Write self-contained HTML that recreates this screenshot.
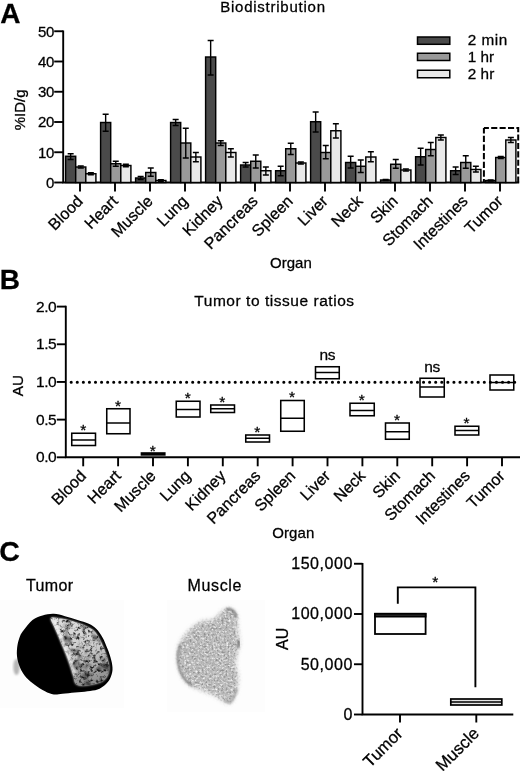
<!DOCTYPE html>
<html><head><meta charset="utf-8"><title>Figure</title>
<style>
html,body{margin:0;padding:0;background:#fff;}
body{width:520px;height:771px;overflow:hidden;font-family:"Liberation Sans",sans-serif;}
svg{display:block;}
text{font-family:"Liberation Sans",sans-serif;fill:#000;stroke:#000;stroke-width:0.28px;}
svg{opacity:0.9999;}
</style></head><body>
<svg width="520" height="771" viewBox="0 0 520 771">
<defs>
<filter id="blur1" x="-20%" y="-20%" width="140%" height="140%"><feGaussianBlur stdDeviation="1.1"/></filter>
<filter id="blur2" x="-20%" y="-20%" width="140%" height="140%"><feGaussianBlur stdDeviation="0.65"/></filter>
<filter id="blur3" x="-5%" y="-5%" width="110%" height="110%"><feGaussianBlur stdDeviation="0.6"/></filter>
<filter id="blurE" x="-30%" y="-30%" width="160%" height="160%"><feGaussianBlur stdDeviation="0.95"/></filter>
<filter id="blurM" x="-20%" y="-20%" width="140%" height="140%"><feGaussianBlur stdDeviation="1.4"/></filter>
<linearGradient id="gradL" x1="0" y1="0" x2="0.25" y2="1"><stop offset="0" stop-color="#e2e2e2"/><stop offset="0.55" stop-color="#cfcfcf"/><stop offset="1" stop-color="#8c8c8c"/></linearGradient>
<filter id="noiseT" x="0" y="0" width="100%" height="100%">
 <feTurbulence type="fractalNoise" baseFrequency="0.3" numOctaves="3" seed="7" result="n"/>
 <feColorMatrix in="n" type="matrix" values="0 0 0 0 0  0 0 0 0 0  0 0 0 0 0  3.4 0 0 0 -1.65" result="m"/>
 <feComposite in="m" in2="SourceGraphic" operator="in"/>
</filter>
<filter id="noiseT2" x="0" y="0" width="100%" height="100%">
 <feTurbulence type="fractalNoise" baseFrequency="0.11" numOctaves="2" seed="23" result="n"/>
 <feColorMatrix in="n" type="matrix" values="0 0 0 0 0  0 0 0 0 0  0 0 0 0 0  3.2 0 0 0 -1.55" result="m"/>
 <feComposite in="m" in2="SourceGraphic" operator="in"/>
</filter>
<filter id="musF" x="-10%" y="-10%" width="120%" height="120%">
 <feGaussianBlur in="SourceGraphic" stdDeviation="1.9" result="b"/>
 <feTurbulence type="fractalNoise" baseFrequency="0.5" numOctaves="2" seed="3" result="n"/>
 <feColorMatrix in="n" type="matrix" values="0 0 0 0 0.28  0 0 0 0 0.28  0 0 0 0 0.28  3.0 0 0 0 -1.25" result="m"/>
 <feComposite in="m" in2="b" operator="in" result="sp"/>
 <feTurbulence type="fractalNoise" baseFrequency="0.45" numOctaves="2" seed="11" result="n2"/>
 <feColorMatrix in="n2" type="matrix" values="0 0 0 0 1  0 0 0 0 1  0 0 0 0 1  2.2 0 0 0 -1.08" result="m2"/>
 <feComposite in="m2" in2="b" operator="in" result="sp2"/>
 <feMerge><feMergeNode in="b"/><feMergeNode in="sp"/><feMergeNode in="sp2"/></feMerge>
</filter>
<filter id="noiseM" x="0" y="0" width="100%" height="100%">
 <feTurbulence type="fractalNoise" baseFrequency="0.85" numOctaves="2" seed="3" result="n"/>
 <feColorMatrix in="n" type="matrix" values="0 0 0 0 0  0 0 0 0 0  0 0 0 0 0  1.9 0 0 0 -0.78" result="m"/>
 <feComposite in="m" in2="SourceGraphic" operator="in"/>
</filter>
</defs>
<rect width="520" height="771" fill="#fff"/>

<!-- Panel A -->
<text x="0.3" y="22.6" font-size="28" font-weight="bold">A</text>
<text x="220.2" y="11.5" font-size="15" textLength="104.8" lengthAdjust="spacing">Biodistribution</text>
<path d="M63.2 30.45V182.5H519.2" fill="none" stroke="#000" stroke-width="1.9"/>
<path d="M54.2 182.50H63.2" stroke="#000" stroke-width="1.9"/>
<text x="54.0" y="187.80" font-size="15" text-anchor="end" letter-spacing="-0.3">0</text>
<path d="M54.2 152.25H63.2" stroke="#000" stroke-width="1.9"/>
<text x="54.0" y="157.55" font-size="15" text-anchor="end" letter-spacing="-0.3">10</text>
<path d="M54.2 122.00H63.2" stroke="#000" stroke-width="1.9"/>
<text x="54.0" y="127.30" font-size="15" text-anchor="end" letter-spacing="-0.3">20</text>
<path d="M54.2 91.75H63.2" stroke="#000" stroke-width="1.9"/>
<text x="54.0" y="97.05" font-size="15" text-anchor="end" letter-spacing="-0.3">30</text>
<path d="M54.2 61.50H63.2" stroke="#000" stroke-width="1.9"/>
<text x="54.0" y="66.80" font-size="15" text-anchor="end" letter-spacing="-0.3">40</text>
<path d="M54.2 31.25H63.2" stroke="#000" stroke-width="1.9"/>
<text x="54.0" y="36.55" font-size="15" text-anchor="end" letter-spacing="-0.3">50</text>
<text transform="translate(25,109.8) rotate(-90)" font-size="15" text-anchor="middle">%ID/g</text>
<rect x="65.60" y="156.25" width="10.1" height="26.25" fill="#4a4a4a" stroke="#000" stroke-width="1.45"/>
<path d="M70.65 153.75V159.50M67.65 153.75h6M67.65 159.50h6" stroke="#000" stroke-width="1.4" fill="none"/>
<rect x="75.70" y="167.00" width="10.1" height="15.50" fill="#999999" stroke="#000" stroke-width="1.45"/>
<path d="M80.75 166.00V168.00M77.75 166.00h6M77.75 168.00h6" stroke="#000" stroke-width="1.4" fill="none"/>
<rect x="85.80" y="173.75" width="10.1" height="8.75" fill="#e9e9e9" stroke="#000" stroke-width="1.45"/>
<path d="M90.85 172.75V174.75M87.85 172.75h6M87.85 174.75h6" stroke="#000" stroke-width="1.4" fill="none"/>
<path d="M80 182.5v9" stroke="#000" stroke-width="1.9"/>
<text transform="translate(83.8,202.1) rotate(-45)" font-size="16.1" text-anchor="end">Blood</text>
<rect x="100.60" y="122.50" width="10.1" height="60.00" fill="#4a4a4a" stroke="#000" stroke-width="1.45"/>
<path d="M105.65 114.25V131.25M102.65 114.25h6M102.65 131.25h6" stroke="#000" stroke-width="1.4" fill="none"/>
<rect x="110.70" y="163.75" width="10.1" height="18.75" fill="#999999" stroke="#000" stroke-width="1.45"/>
<path d="M115.75 161.25V166.25M112.75 161.25h6M112.75 166.25h6" stroke="#000" stroke-width="1.4" fill="none"/>
<rect x="120.80" y="165.50" width="10.1" height="17.00" fill="#e9e9e9" stroke="#000" stroke-width="1.45"/>
<path d="M125.85 164.30V166.70M122.85 164.30h6M122.85 166.70h6" stroke="#000" stroke-width="1.4" fill="none"/>
<path d="M115 182.5v9" stroke="#000" stroke-width="1.9"/>
<text transform="translate(118.8,202.1) rotate(-45)" font-size="16.1" text-anchor="end">Heart</text>
<rect x="135.60" y="178.00" width="10.1" height="4.50" fill="#4a4a4a" stroke="#000" stroke-width="1.45"/>
<path d="M140.65 176.50V179.50M137.65 176.50h6M137.65 179.50h6" stroke="#000" stroke-width="1.4" fill="none"/>
<rect x="145.70" y="172.50" width="10.1" height="10.00" fill="#999999" stroke="#000" stroke-width="1.45"/>
<path d="M150.75 168.00V176.25M147.75 168.00h6M147.75 176.25h6" stroke="#000" stroke-width="1.4" fill="none"/>
<rect x="155.80" y="180.50" width="10.1" height="2.00" fill="#e9e9e9" stroke="#000" stroke-width="1.45"/>
<path d="M160.85 179.80V181.20M157.85 179.80h6M157.85 181.20h6" stroke="#000" stroke-width="1.4" fill="none"/>
<path d="M150 182.5v9" stroke="#000" stroke-width="1.9"/>
<text transform="translate(153.8,202.1) rotate(-45)" font-size="16.1" text-anchor="end">Muscle</text>
<rect x="170.60" y="122.50" width="10.1" height="60.00" fill="#4a4a4a" stroke="#000" stroke-width="1.45"/>
<path d="M175.65 119.50V125.50M172.65 119.50h6M172.65 125.50h6" stroke="#000" stroke-width="1.4" fill="none"/>
<rect x="180.70" y="143.00" width="10.1" height="39.50" fill="#999999" stroke="#000" stroke-width="1.45"/>
<path d="M185.75 128.25V158.00M182.75 128.25h6M182.75 158.00h6" stroke="#000" stroke-width="1.4" fill="none"/>
<rect x="190.80" y="157.00" width="10.1" height="25.50" fill="#e9e9e9" stroke="#000" stroke-width="1.45"/>
<path d="M195.85 152.50V161.75M192.85 152.50h6M192.85 161.75h6" stroke="#000" stroke-width="1.4" fill="none"/>
<path d="M185 182.5v9" stroke="#000" stroke-width="1.9"/>
<text transform="translate(188.8,202.1) rotate(-45)" font-size="16.1" text-anchor="end">Lung</text>
<rect x="205.60" y="57.00" width="10.1" height="125.50" fill="#4a4a4a" stroke="#000" stroke-width="1.45"/>
<path d="M210.65 40.50V75.00M207.65 40.50h6M207.65 75.00h6" stroke="#000" stroke-width="1.4" fill="none"/>
<rect x="215.70" y="143.00" width="10.1" height="39.50" fill="#999999" stroke="#000" stroke-width="1.45"/>
<path d="M220.75 140.75V145.50M217.75 140.75h6M217.75 145.50h6" stroke="#000" stroke-width="1.4" fill="none"/>
<rect x="225.80" y="152.50" width="10.1" height="30.00" fill="#e9e9e9" stroke="#000" stroke-width="1.45"/>
<path d="M230.85 148.75V157.00M227.85 148.75h6M227.85 157.00h6" stroke="#000" stroke-width="1.4" fill="none"/>
<path d="M220 182.5v9" stroke="#000" stroke-width="1.9"/>
<text transform="translate(223.8,202.1) rotate(-45)" font-size="16.1" text-anchor="end">Kidney</text>
<rect x="240.60" y="165.00" width="10.1" height="17.50" fill="#4a4a4a" stroke="#000" stroke-width="1.45"/>
<path d="M245.65 162.50V167.00M242.65 162.50h6M242.65 167.00h6" stroke="#000" stroke-width="1.4" fill="none"/>
<rect x="250.70" y="161.25" width="10.1" height="21.25" fill="#999999" stroke="#000" stroke-width="1.45"/>
<path d="M255.75 155.00V168.00M252.75 155.00h6M252.75 168.00h6" stroke="#000" stroke-width="1.4" fill="none"/>
<rect x="260.80" y="170.75" width="10.1" height="11.75" fill="#e9e9e9" stroke="#000" stroke-width="1.45"/>
<path d="M265.85 167.00V175.00M262.85 167.00h6M262.85 175.00h6" stroke="#000" stroke-width="1.4" fill="none"/>
<path d="M255 182.5v9" stroke="#000" stroke-width="1.9"/>
<text transform="translate(258.8,202.1) rotate(-45)" font-size="16.1" text-anchor="end">Pancreas</text>
<rect x="275.60" y="170.75" width="10.1" height="11.75" fill="#4a4a4a" stroke="#000" stroke-width="1.45"/>
<path d="M280.65 166.25V175.75M277.65 166.25h6M277.65 175.75h6" stroke="#000" stroke-width="1.4" fill="none"/>
<rect x="285.70" y="148.75" width="10.1" height="33.75" fill="#999999" stroke="#000" stroke-width="1.45"/>
<path d="M290.75 143.25V154.50M287.75 143.25h6M287.75 154.50h6" stroke="#000" stroke-width="1.4" fill="none"/>
<rect x="295.80" y="163.00" width="10.1" height="19.50" fill="#e9e9e9" stroke="#000" stroke-width="1.45"/>
<path d="M300.85 162.00V164.00M297.85 162.00h6M297.85 164.00h6" stroke="#000" stroke-width="1.4" fill="none"/>
<path d="M290 182.5v9" stroke="#000" stroke-width="1.9"/>
<text transform="translate(293.8,202.1) rotate(-45)" font-size="16.1" text-anchor="end">Spleen</text>
<rect x="310.60" y="121.75" width="10.1" height="60.75" fill="#4a4a4a" stroke="#000" stroke-width="1.45"/>
<path d="M315.65 112.00V132.00M312.65 112.00h6M312.65 132.00h6" stroke="#000" stroke-width="1.4" fill="none"/>
<rect x="320.70" y="152.50" width="10.1" height="30.00" fill="#999999" stroke="#000" stroke-width="1.45"/>
<path d="M325.75 145.50V158.75M322.75 145.50h6M322.75 158.75h6" stroke="#000" stroke-width="1.4" fill="none"/>
<rect x="330.80" y="130.75" width="10.1" height="51.75" fill="#e9e9e9" stroke="#000" stroke-width="1.45"/>
<path d="M335.85 123.75V138.00M332.85 123.75h6M332.85 138.00h6" stroke="#000" stroke-width="1.4" fill="none"/>
<path d="M325 182.5v9" stroke="#000" stroke-width="1.9"/>
<text transform="translate(328.8,202.1) rotate(-45)" font-size="16.1" text-anchor="end">Liver</text>
<rect x="345.60" y="162.50" width="10.1" height="20.00" fill="#4a4a4a" stroke="#000" stroke-width="1.45"/>
<path d="M350.65 156.25V168.00M347.65 156.25h6M347.65 168.00h6" stroke="#000" stroke-width="1.4" fill="none"/>
<rect x="355.70" y="166.25" width="10.1" height="16.25" fill="#999999" stroke="#000" stroke-width="1.45"/>
<path d="M360.75 160.00V172.50M357.75 160.00h6M357.75 172.50h6" stroke="#000" stroke-width="1.4" fill="none"/>
<rect x="365.80" y="157.00" width="10.1" height="25.50" fill="#e9e9e9" stroke="#000" stroke-width="1.45"/>
<path d="M370.85 151.75V161.75M367.85 151.75h6M367.85 161.75h6" stroke="#000" stroke-width="1.4" fill="none"/>
<path d="M360 182.5v9" stroke="#000" stroke-width="1.9"/>
<text transform="translate(363.8,202.1) rotate(-45)" font-size="16.1" text-anchor="end">Neck</text>
<rect x="380.60" y="180.00" width="10.1" height="2.50" fill="#4a4a4a" stroke="#000" stroke-width="1.45"/>
<path d="M385.65 179.50V180.60M382.65 179.50h6M382.65 180.60h6" stroke="#000" stroke-width="1.4" fill="none"/>
<rect x="390.70" y="164.25" width="10.1" height="18.25" fill="#999999" stroke="#000" stroke-width="1.45"/>
<path d="M395.75 159.50V168.25M392.75 159.50h6M392.75 168.25h6" stroke="#000" stroke-width="1.4" fill="none"/>
<rect x="400.80" y="170.00" width="10.1" height="12.50" fill="#e9e9e9" stroke="#000" stroke-width="1.45"/>
<path d="M405.85 169.00V171.00M402.85 169.00h6M402.85 171.00h6" stroke="#000" stroke-width="1.4" fill="none"/>
<path d="M395 182.5v9" stroke="#000" stroke-width="1.9"/>
<text transform="translate(398.8,202.1) rotate(-45)" font-size="16.1" text-anchor="end">Skin</text>
<rect x="415.60" y="156.75" width="10.1" height="25.75" fill="#4a4a4a" stroke="#000" stroke-width="1.45"/>
<path d="M420.65 148.25V165.00M417.65 148.25h6M417.65 165.00h6" stroke="#000" stroke-width="1.4" fill="none"/>
<rect x="425.70" y="149.50" width="10.1" height="33.00" fill="#999999" stroke="#000" stroke-width="1.45"/>
<path d="M430.75 142.50V155.75M427.75 142.50h6M427.75 155.75h6" stroke="#000" stroke-width="1.4" fill="none"/>
<rect x="435.80" y="137.50" width="10.1" height="45.00" fill="#e9e9e9" stroke="#000" stroke-width="1.45"/>
<path d="M440.85 135.00V140.00M437.85 135.00h6M437.85 140.00h6" stroke="#000" stroke-width="1.4" fill="none"/>
<path d="M430 182.5v9" stroke="#000" stroke-width="1.9"/>
<text transform="translate(433.8,202.1) rotate(-45)" font-size="16.1" text-anchor="end">Stomach</text>
<rect x="450.60" y="170.75" width="10.1" height="11.75" fill="#4a4a4a" stroke="#000" stroke-width="1.45"/>
<path d="M455.65 167.00V174.50M452.65 167.00h6M452.65 174.50h6" stroke="#000" stroke-width="1.4" fill="none"/>
<rect x="460.70" y="162.50" width="10.1" height="20.00" fill="#999999" stroke="#000" stroke-width="1.45"/>
<path d="M465.75 155.75V168.25M462.75 155.75h6M462.75 168.25h6" stroke="#000" stroke-width="1.4" fill="none"/>
<rect x="470.80" y="169.50" width="10.1" height="13.00" fill="#e9e9e9" stroke="#000" stroke-width="1.45"/>
<path d="M475.85 166.25V172.00M472.85 166.25h6M472.85 172.00h6" stroke="#000" stroke-width="1.4" fill="none"/>
<path d="M465 182.5v9" stroke="#000" stroke-width="1.9"/>
<text transform="translate(468.8,202.1) rotate(-45)" font-size="16.1" text-anchor="end">Intestines</text>
<rect x="485.60" y="180.50" width="10.1" height="2.00" fill="#4a4a4a" stroke="#000" stroke-width="1.45"/>
<path d="M490.65 180.00V181.00M487.65 180.00h6M487.65 181.00h6" stroke="#000" stroke-width="1.4" fill="none"/>
<rect x="495.70" y="157.50" width="10.1" height="25.00" fill="#999999" stroke="#000" stroke-width="1.45"/>
<path d="M500.75 156.50V158.50M497.75 156.50h6M497.75 158.50h6" stroke="#000" stroke-width="1.4" fill="none"/>
<rect x="505.80" y="140.00" width="10.1" height="42.50" fill="#e9e9e9" stroke="#000" stroke-width="1.45"/>
<path d="M510.85 137.50V142.50M507.85 137.50h6M507.85 142.50h6" stroke="#000" stroke-width="1.4" fill="none"/>
<path d="M500 182.5v9" stroke="#000" stroke-width="1.9"/>
<text transform="translate(503.8,202.1) rotate(-45)" font-size="16.1" text-anchor="end">Tumor</text>
<rect x="417.5" y="37.0" width="32.3" height="7.3" fill="#4a4a4a" stroke="#000" stroke-width="1.5"/>
<text x="467.7" y="45.40" font-size="15.3" textLength="39.6" lengthAdjust="spacing">2 min</text>
<rect x="417.5" y="53.25" width="32.3" height="7.25" fill="#999999" stroke="#000" stroke-width="1.5"/>
<text x="467.7" y="61.65" font-size="15.3" textLength="26.3" lengthAdjust="spacing">1 hr</text>
<rect x="417.5" y="70.25" width="32.3" height="7.5" fill="#e9e9e9" stroke="#000" stroke-width="1.5"/>
<text x="467.7" y="78.65" font-size="15.3" textLength="26.6" lengthAdjust="spacing">2 hr</text>
<path d="M483.9 127.9V182.5" fill="none" stroke="#000" stroke-width="2" stroke-dasharray="6.3 2.35" stroke-dashoffset="0.8"/>
<path d="M483.9 127.9H518.2V182.5" fill="none" stroke="#000" stroke-width="2" stroke-dasharray="6.1 2.3" stroke-dashoffset="1.1"/>
<text x="290.9" y="268.2" font-size="15" text-anchor="middle">Organ</text>
<!-- Panel B -->
<text x="-0.2" y="288.7" font-size="28" font-weight="bold">B</text>
<text x="194.3" y="306.4" font-size="15.5" textLength="159.8" lengthAdjust="spacing">Tumor to tissue ratios</text>
<path d="M65.8 305.8V457.3H520" fill="none" stroke="#000" stroke-width="1.9"/>
<path d="M56.8 457.30H65.8" stroke="#000" stroke-width="1.9"/>
<text x="56.4" y="462.20" font-size="15.5" text-anchor="end" letter-spacing="-0.35">0.0</text>
<path d="M56.8 419.62H65.8" stroke="#000" stroke-width="1.9"/>
<text x="56.4" y="424.52" font-size="15.5" text-anchor="end" letter-spacing="-0.35">0.5</text>
<path d="M56.8 381.95H65.8" stroke="#000" stroke-width="1.9"/>
<text x="56.4" y="386.85" font-size="15.5" text-anchor="end" letter-spacing="-0.35">1.0</text>
<path d="M56.8 344.28H65.8" stroke="#000" stroke-width="1.9"/>
<text x="56.4" y="349.18" font-size="15.5" text-anchor="end" letter-spacing="-0.35">1.5</text>
<path d="M56.8 306.60H65.8" stroke="#000" stroke-width="1.9"/>
<text x="56.4" y="311.50" font-size="15.5" text-anchor="end" letter-spacing="-0.35">2.0</text>
<text transform="translate(22.8,385.7) rotate(-90)" font-size="15.3" text-anchor="middle">AU</text>
<path d="M71.2 382.2H515.2" stroke="#000" stroke-width="3.1" stroke-linecap="round" stroke-dasharray="0.01 6.065" fill="none"/>
<rect x="71.75" y="433.25" width="23.75" height="12.25" fill="none" stroke="#000" stroke-width="1.55"/>
<path d="M71.75 440H95.5" stroke="#000" stroke-width="1.5"/>
<text x="83.22" y="435.15" font-size="15.5" text-anchor="middle">*</text>
<path d="M83.20 457.3v9" stroke="#000" stroke-width="1.9"/>
<text transform="translate(87.00,476.90000000000003) rotate(-45)" font-size="16.1" text-anchor="end">Blood</text>
<rect x="106.75" y="408.75" width="23.25" height="25.0" fill="none" stroke="#000" stroke-width="1.55"/>
<path d="M106.75 423H130" stroke="#000" stroke-width="1.5"/>
<text x="117.97" y="410.65" font-size="15.5" text-anchor="middle">*</text>
<path d="M118.10 457.3v9" stroke="#000" stroke-width="1.9"/>
<text transform="translate(121.90,476.90000000000003) rotate(-45)" font-size="16.1" text-anchor="end">Heart</text>
<rect x="140.65" y="452.2" width="24.95" height="3.5" fill="#000"/>
<text x="152.72" y="456.00" font-size="15.5" text-anchor="middle">*</text>
<path d="M153.00 457.3v9" stroke="#000" stroke-width="1.9"/>
<text transform="translate(156.80,476.90000000000003) rotate(-45)" font-size="16.1" text-anchor="end">Muscle</text>
<rect x="176.25" y="401.25" width="23.75" height="15.75" fill="none" stroke="#000" stroke-width="1.55"/>
<path d="M176.25 409.5H200" stroke="#000" stroke-width="1.5"/>
<text x="187.72" y="403.15" font-size="15.5" text-anchor="middle">*</text>
<path d="M187.90 457.3v9" stroke="#000" stroke-width="1.9"/>
<text transform="translate(191.70,476.90000000000003) rotate(-45)" font-size="16.1" text-anchor="end">Lung</text>
<rect x="210.75" y="405" width="23.75" height="7.5" fill="none" stroke="#000" stroke-width="1.55"/>
<path d="M210.75 408.75H234.5" stroke="#000" stroke-width="1.5"/>
<text x="222.22" y="406.90" font-size="15.5" text-anchor="middle">*</text>
<path d="M222.80 457.3v9" stroke="#000" stroke-width="1.9"/>
<text transform="translate(226.60,476.90000000000003) rotate(-45)" font-size="16.1" text-anchor="end">Kidney</text>
<rect x="245.75" y="435" width="23.75" height="7" fill="none" stroke="#000" stroke-width="1.55"/>
<path d="M245.75 438.25H269.5" stroke="#000" stroke-width="1.5"/>
<text x="257.23" y="436.90" font-size="15.5" text-anchor="middle">*</text>
<path d="M257.70 457.3v9" stroke="#000" stroke-width="1.9"/>
<text transform="translate(261.50,476.90000000000003) rotate(-45)" font-size="16.1" text-anchor="end">Pancreas</text>
<rect x="280.75" y="400.5" width="23.5" height="30.75" fill="none" stroke="#000" stroke-width="1.55"/>
<path d="M280.75 418.25H304.25" stroke="#000" stroke-width="1.5"/>
<text x="292.10" y="402.40" font-size="15.5" text-anchor="middle">*</text>
<path d="M292.60 457.3v9" stroke="#000" stroke-width="1.9"/>
<text transform="translate(296.40,476.90000000000003) rotate(-45)" font-size="16.1" text-anchor="end">Spleen</text>
<rect x="315.5" y="366.75" width="23.75" height="12.0" fill="none" stroke="#000" stroke-width="1.55"/>
<path d="M315.5 372.5H339.25" stroke="#000" stroke-width="1.5"/>
<text x="327.38" y="360.25" font-size="15.5" text-anchor="middle" letter-spacing="-0.2">ns</text>
<path d="M327.50 457.3v9" stroke="#000" stroke-width="1.9"/>
<text transform="translate(331.30,476.90000000000003) rotate(-45)" font-size="16.1" text-anchor="end">Liver</text>
<rect x="350" y="403.25" width="24.25" height="12.5" fill="none" stroke="#000" stroke-width="1.55"/>
<path d="M350 410.5H374.25" stroke="#000" stroke-width="1.5"/>
<text x="361.73" y="405.15" font-size="15.5" text-anchor="middle">*</text>
<path d="M362.40 457.3v9" stroke="#000" stroke-width="1.9"/>
<text transform="translate(366.20,476.90000000000003) rotate(-45)" font-size="16.1" text-anchor="end">Neck</text>
<rect x="385.5" y="423" width="23.75" height="16.25" fill="none" stroke="#000" stroke-width="1.55"/>
<path d="M385.5 431.75H409.25" stroke="#000" stroke-width="1.5"/>
<text x="396.98" y="424.90" font-size="15.5" text-anchor="middle">*</text>
<path d="M397.30 457.3v9" stroke="#000" stroke-width="1.9"/>
<text transform="translate(401.10,476.90000000000003) rotate(-45)" font-size="16.1" text-anchor="end">Skin</text>
<rect x="420" y="378.25" width="24.25" height="18.75" fill="none" stroke="#000" stroke-width="1.55"/>
<path d="M420 387H444.25" stroke="#000" stroke-width="1.5"/>
<text x="432.12" y="371.75" font-size="15.5" text-anchor="middle" letter-spacing="-0.2">ns</text>
<path d="M432.20 457.3v9" stroke="#000" stroke-width="1.9"/>
<text transform="translate(436.00,476.90000000000003) rotate(-45)" font-size="16.1" text-anchor="end">Stomach</text>
<rect x="455" y="426.25" width="23.75" height="8.75" fill="none" stroke="#000" stroke-width="1.55"/>
<path d="M455 430.5H478.75" stroke="#000" stroke-width="1.5"/>
<text x="466.48" y="428.15" font-size="15.5" text-anchor="middle">*</text>
<path d="M467.10 457.3v9" stroke="#000" stroke-width="1.9"/>
<text transform="translate(470.90,476.90000000000003) rotate(-45)" font-size="16.1" text-anchor="end">Intestines</text>
<rect x="490" y="375" width="23.75" height="15" fill="none" stroke="#000" stroke-width="1.55"/>
<path d="M490 382.5H513.75" stroke="#000" stroke-width="1.5"/>
<path d="M502.00 457.3v9" stroke="#000" stroke-width="1.9"/>
<text transform="translate(505.80,476.90000000000003) rotate(-45)" font-size="16.1" text-anchor="end">Tumor</text>
<text x="293.3" y="537.5" font-size="15" text-anchor="middle" letter-spacing="0.1">Organ</text>
<!-- Panel C -->
<text x="-0.8" y="560.7" font-size="28.5" font-weight="bold">C</text>
<text x="26" y="591.2" font-size="16" textLength="47.2" lengthAdjust="spacing">Tumor</text>
<text x="187.6" y="591.2" font-size="16" textLength="53.8" lengthAdjust="spacing">Muscle</text>
<rect x="0" y="600" width="124" height="108" fill="#fdfdfd"/>
<rect x="167" y="600" width="98" height="112" fill="#fdfdfd"/>
<ellipse cx="16.5" cy="667" rx="3.2" ry="8" fill="#b5b5b5" filter="url(#blur1)"/>
<g filter="url(#blur2)"><path d="M23.8 630.0C25.8 627.3 29.4 622.4 32.5 620.0C35.6 617.6 39.0 616.5 42.5 615.5C46.0 614.5 50.0 613.6 53.8 613.8C57.5 613.9 61.0 615.2 65.0 616.2C69.0 617.3 73.5 618.8 77.5 620.0C81.5 621.2 85.6 622.3 88.8 623.8C91.9 625.2 94.0 626.5 96.2 628.8C98.5 631.0 100.6 634.2 102.5 637.5C104.4 640.8 106.0 645.0 107.5 648.8C109.0 652.5 110.4 656.5 111.2 660.0C112.1 663.5 112.7 666.9 112.5 670.0C112.3 673.1 111.2 676.2 110.0 678.8C108.8 681.2 107.1 683.2 105.0 685.0C102.9 686.8 100.4 688.5 97.5 689.5C94.6 690.5 91.2 690.8 87.5 691.2C83.8 691.8 79.2 692.1 75.0 692.5C70.8 692.9 66.0 693.4 62.5 693.8C59.0 694.1 56.7 694.9 53.8 694.5C50.8 694.1 48.1 692.8 45.0 691.2C41.9 689.7 38.1 687.3 35.0 685.0C31.9 682.7 28.8 680.4 26.2 677.5C23.8 674.6 21.5 671.0 20.0 667.5C18.5 664.0 17.4 660.0 17.0 656.2C16.6 652.5 17.0 648.3 17.5 645.0C18.0 641.7 19.0 638.8 20.0 636.2C21.0 633.8 21.7 632.7 23.8 630.0Z" fill="#050505"/></g>
<g filter="url(#blur1)"><path d="M51.0 618.0C52.4 616.8 58.5 618.1 62.5 618.8C66.5 619.4 71.0 620.8 75.0 622.0C79.0 623.2 83.0 624.7 86.2 626.2C89.5 627.8 92.2 629.0 94.5 631.2C96.8 633.5 98.2 636.7 100.0 640.0C101.8 643.3 103.6 647.5 105.0 651.2C106.4 655.0 107.8 659.2 108.5 662.5C109.2 665.8 109.4 668.6 109.0 671.2C108.6 673.9 107.5 676.4 106.0 678.2C104.5 680.1 102.7 681.4 100.0 682.5C97.3 683.6 93.2 684.5 90.0 685.0C86.8 685.5 83.0 686.0 80.5 685.8C78.0 685.5 76.5 685.0 75.2 683.2C74.0 681.5 74.1 678.0 73.2 675.0C72.4 672.0 71.4 668.3 70.2 665.0C69.1 661.7 67.8 658.3 66.5 655.0C65.2 651.7 63.7 648.3 62.2 645.0C60.8 641.7 59.4 638.1 58.0 635.0C56.6 631.9 55.2 629.1 54.0 626.2C52.8 623.4 49.6 619.2 51.0 618.0Z" fill="#cfcfcf"/></g>
<clipPath id="clipL"><path d="M51.0 618.0C52.4 616.8 58.5 618.1 62.5 618.8C66.5 619.4 71.0 620.8 75.0 622.0C79.0 623.2 83.0 624.7 86.2 626.2C89.5 627.8 92.2 629.0 94.5 631.2C96.8 633.5 98.2 636.7 100.0 640.0C101.8 643.3 103.6 647.5 105.0 651.2C106.4 655.0 107.8 659.2 108.5 662.5C109.2 665.8 109.4 668.6 109.0 671.2C108.6 673.9 107.5 676.4 106.0 678.2C104.5 680.1 102.7 681.4 100.0 682.5C97.3 683.6 93.2 684.5 90.0 685.0C86.8 685.5 83.0 686.0 80.5 685.8C78.0 685.5 76.5 685.0 75.2 683.2C74.0 681.5 74.1 678.0 73.2 675.0C72.4 672.0 71.4 668.3 70.2 665.0C69.1 661.7 67.8 658.3 66.5 655.0C65.2 651.7 63.7 648.3 62.2 645.0C60.8 641.7 59.4 638.1 58.0 635.0C56.6 631.9 55.2 629.1 54.0 626.2C52.8 623.4 49.6 619.2 51.0 618.0Z"/></clipPath>
<g clip-path="url(#clipL)">
<rect x="45" y="612" width="70" height="80" fill="url(#gradL)"/>
<g filter="url(#blur3)" opacity="0.82"><path d="M51.0 618.0C52.4 616.8 58.5 618.1 62.5 618.8C66.5 619.4 71.0 620.8 75.0 622.0C79.0 623.2 83.0 624.7 86.2 626.2C89.5 627.8 92.2 629.0 94.5 631.2C96.8 633.5 98.2 636.7 100.0 640.0C101.8 643.3 103.6 647.5 105.0 651.2C106.4 655.0 107.8 659.2 108.5 662.5C109.2 665.8 109.4 668.6 109.0 671.2C108.6 673.9 107.5 676.4 106.0 678.2C104.5 680.1 102.7 681.4 100.0 682.5C97.3 683.6 93.2 684.5 90.0 685.0C86.8 685.5 83.0 686.0 80.5 685.8C78.0 685.5 76.5 685.0 75.2 683.2C74.0 681.5 74.1 678.0 73.2 675.0C72.4 672.0 71.4 668.3 70.2 665.0C69.1 661.7 67.8 658.3 66.5 655.0C65.2 651.7 63.7 648.3 62.2 645.0C60.8 641.7 59.4 638.1 58.0 635.0C56.6 631.9 55.2 629.1 54.0 626.2C52.8 623.4 49.6 619.2 51.0 618.0Z" fill="#000" filter="url(#noiseT)"/></g>
<g filter="url(#blur3)" opacity="0.55"><path d="M51.0 618.0C52.4 616.8 58.5 618.1 62.5 618.8C66.5 619.4 71.0 620.8 75.0 622.0C79.0 623.2 83.0 624.7 86.2 626.2C89.5 627.8 92.2 629.0 94.5 631.2C96.8 633.5 98.2 636.7 100.0 640.0C101.8 643.3 103.6 647.5 105.0 651.2C106.4 655.0 107.8 659.2 108.5 662.5C109.2 665.8 109.4 668.6 109.0 671.2C108.6 673.9 107.5 676.4 106.0 678.2C104.5 680.1 102.7 681.4 100.0 682.5C97.3 683.6 93.2 684.5 90.0 685.0C86.8 685.5 83.0 686.0 80.5 685.8C78.0 685.5 76.5 685.0 75.2 683.2C74.0 681.5 74.1 678.0 73.2 675.0C72.4 672.0 71.4 668.3 70.2 665.0C69.1 661.7 67.8 658.3 66.5 655.0C65.2 651.7 63.7 648.3 62.2 645.0C60.8 641.7 59.4 638.1 58.0 635.0C56.6 631.9 55.2 629.1 54.0 626.2C52.8 623.4 49.6 619.2 51.0 618.0Z" fill="#000" filter="url(#noiseT2)"/></g>
</g>
<path d="M54.5 621.5C55.2 623.3 57.5 628.8 59.0 632.5C60.5 636.2 62.0 640.0 63.5 643.8C65.0 647.5 66.4 651.5 67.8 655.0C69.1 658.5 70.4 661.8 71.5 665.0C72.6 668.2 74.0 672.9 74.5 674.5" fill="none" stroke="#f6f6f6" stroke-width="2.8" stroke-linecap="round" filter="url(#blur1)" opacity="0.85"/>
<path d="M230.0 608.8C231.4 609.2 233.4 610.5 234.5 612.0C235.6 613.5 236.0 614.5 236.5 617.5C237.0 620.5 237.1 625.6 237.5 630.0C237.9 634.4 239.2 639.7 239.0 643.8C238.8 647.8 237.1 651.0 236.5 654.5C235.9 658.0 235.1 661.5 235.2 665.0C235.4 668.5 237.2 671.7 237.5 675.5C237.8 679.3 237.6 684.5 237.0 688.0C236.4 691.5 235.0 694.2 233.8 696.8C232.5 699.2 231.4 702.5 229.5 703.0C227.6 703.5 225.3 701.5 222.5 700.0C219.7 698.5 215.8 695.6 212.5 694.0C209.2 692.4 205.8 691.5 202.5 690.2C199.2 689.0 195.8 688.1 193.0 686.5C190.2 684.9 187.5 682.8 185.5 680.5C183.5 678.2 182.0 676.0 180.8 673.0C179.5 670.0 178.5 665.9 178.0 662.5C177.5 659.1 177.7 655.6 178.0 652.5C178.3 649.4 178.9 646.5 180.0 643.8C181.1 641.0 182.8 638.5 184.5 636.2C186.2 634.0 188.0 631.9 190.0 630.0C192.0 628.1 194.0 626.2 196.2 624.8C198.5 623.2 201.2 621.7 203.8 621.0C206.2 620.3 209.1 621.1 211.2 620.5C213.4 619.9 214.8 618.9 216.5 617.5C218.2 616.1 219.9 613.6 221.5 612.2C223.1 610.9 224.8 609.8 226.2 609.2C227.7 608.7 228.6 608.3 230.0 608.8Z" fill="#bebebe" filter="url(#musF)"/>
<path d="M180.5 644.0C180.1 645.4 178.6 649.4 178.2 652.5C177.9 655.6 177.8 659.1 178.2 662.5C178.7 665.9 179.8 670.0 181.0 673.0C182.2 676.0 183.8 678.3 185.8 680.5C187.7 682.7 191.4 685.3 192.5 686.2" fill="none" stroke="#4a4a4a" stroke-width="1.5" filter="url(#blurE)" opacity="0.8"/>
<path d="M225.8 610.0C226.5 609.8 228.5 608.6 230.0 609.0C231.5 609.4 233.4 611.0 234.5 612.5C235.6 614.0 236.2 617.1 236.5 618.0" fill="none" stroke="#444" stroke-width="1.7" filter="url(#blurE)" opacity="0.8"/>
<path d="M238.2 640.0C238.4 640.6 239.3 642.4 239.2 643.8C239.2 645.1 238.2 647.3 238.0 648.0" fill="none" stroke="#444" stroke-width="1.8" filter="url(#blurE)" opacity="0.85"/>
<path d="M237.0 688.8C236.5 690.1 235.2 694.5 234.0 696.8C232.8 699.0 231.4 701.9 229.8 702.5C228.1 703.1 225.2 700.6 224.2 700.2" fill="none" stroke="#666" stroke-width="1.5" filter="url(#blurE)" opacity="0.7"/>
<path d="M362.5 562.95V714.5H513.3" fill="none" stroke="#000" stroke-width="1.9"/>
<path d="M354.0 714.50H362.5" stroke="#000" stroke-width="1.9"/>
<text x="352.9" y="719.90" font-size="16" text-anchor="end" letter-spacing="0.55">0</text>
<path d="M354.0 664.25H362.5" stroke="#000" stroke-width="1.9"/>
<text x="352.9" y="669.65" font-size="16" text-anchor="end" letter-spacing="0.55">50,000</text>
<path d="M354.0 614.00H362.5" stroke="#000" stroke-width="1.9"/>
<text x="352.9" y="619.40" font-size="16" text-anchor="end" letter-spacing="0.55">100,000</text>
<path d="M354.0 563.75H362.5" stroke="#000" stroke-width="1.9"/>
<text x="352.9" y="569.15" font-size="16" text-anchor="end" letter-spacing="0.55">150,000</text>
<text transform="translate(287.8,638.9) rotate(-90)" font-size="16" text-anchor="middle">AU</text>
<rect x="375" y="613.8" width="50.6" height="20.2" fill="#fff" stroke="#000" stroke-width="1.8"/>
<rect x="375" y="613.8" width="50.6" height="2.8" fill="#333" stroke="#000" stroke-width="1.8"/>
<rect x="450.8" y="699" width="51" height="6" fill="#e4e4e4" stroke="#000" stroke-width="1.7"/>
<path d="M450.8 702H501.8" stroke="#000" stroke-width="1.3"/>
<path d="M397.8 603.8V587.4H475.4V687.3" fill="none" stroke="#000" stroke-width="1.9"/>
<text x="435.3" y="586.5" font-size="15.5" text-anchor="middle">*</text>
<path d="M400 714.5v8" stroke="#000" stroke-width="1.9"/>
<text transform="translate(403.8,734.5) rotate(-45)" font-size="16.8" text-anchor="end">Tumor</text>
<path d="M476.3 714.5v8" stroke="#000" stroke-width="1.9"/>
<text transform="translate(480.1,734.5) rotate(-45)" font-size="16.8" text-anchor="end">Muscle</text>
</svg></body></html>
